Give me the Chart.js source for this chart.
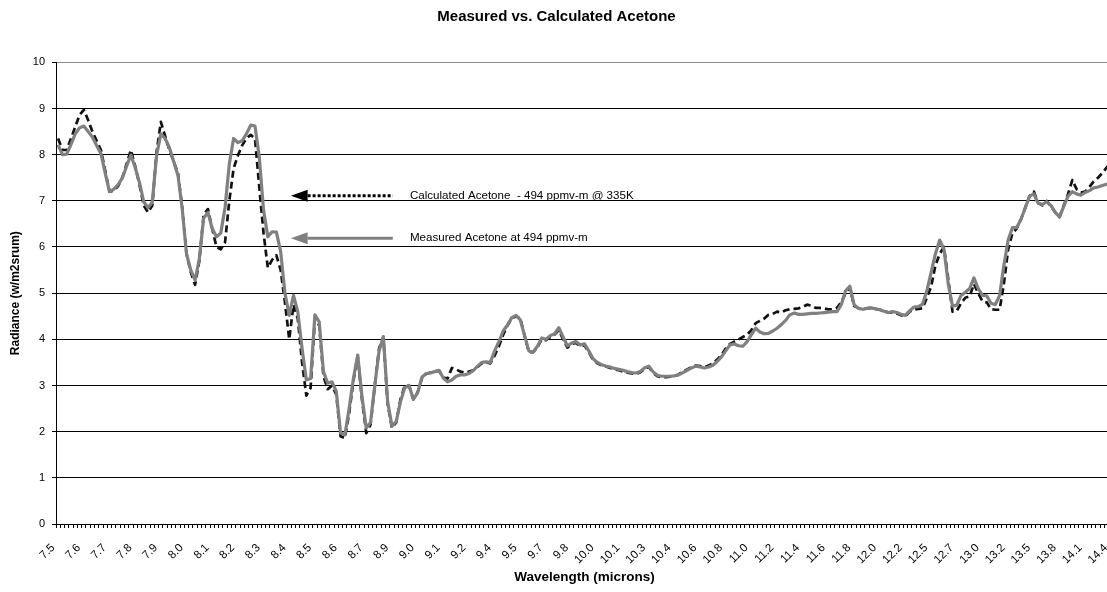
<!DOCTYPE html>
<html>
<head>
<meta charset="utf-8">
<title>Measured vs. Calculated Acetone</title>
<script src="https://cdn.jsdelivr.net/npm/chart.js@4/dist/chart.umd.min.js"></script>
<style>
  html, body { margin: 0; padding: 0; background: #fff; overflow: hidden; }
  #wrap { width: 1116px; height: 592px; }
</style>
</head>
<body>
<div id="wrap"><canvas id="acetoneChart" width="1116" height="592"></canvas></div>
<script>
// wavelength labels, one every 6 spectral points
var tickLabels = ['7.5', '7.6', '7.7', '7.8', '7.9', '8.0', '8.1', '8.2', '8.3', '8.4', '8.5', '8.6', '8.7',
  '8.9', '9.0', '9.1', '9.2', '9.4', '9.5', '9.7', '9.8', '10.0', '10.1', '10.3', '10.4', '10.6', '10.8',
  '11.0', '11.2', '11.4', '11.6', '11.8', '12.0', '12.2', '12.5', '12.7', '13.0', '13.2', '13.5', '13.8',
  '14.1', '14.4'];
var labelEvery = 6;

// measured acetone radiance at 494 ppmv-m
var measured = [
  8.21, 8.0, 8.01, 8.22, 8.45, 8.58, 8.62, 8.5, 8.38, 8.2,
  8.02, 7.6, 7.2, 7.25, 7.35, 7.49, 7.75, 7.99, 7.72, 7.4,
  6.98, 6.85, 6.97, 7.98, 8.45, 8.35, 8.15, 7.85, 7.55, 6.82,
  5.85, 5.5, 5.28, 5.75, 6.62, 6.75, 6.4, 6.22, 6.3, 6.85,
  7.8, 8.35, 8.26, 8.3, 8.45, 8.64, 8.62, 7.95, 6.8, 6.22,
  6.33, 6.32, 5.9, 5.0, 4.52, 4.95, 4.6, 3.8, 3.12, 3.15,
  4.53, 4.38, 3.3, 3.05, 3.08, 2.87, 1.97, 1.93, 2.5, 3.15,
  3.66, 2.76, 2.08, 2.2, 3.0, 3.75, 4.06, 2.65, 2.12, 2.22,
  2.65, 2.95, 3.0, 2.7, 2.84, 3.18, 3.26, 3.27, 3.3, 3.33,
  3.16, 3.08, 3.12, 3.2, 3.23, 3.23, 3.26, 3.32, 3.42, 3.5,
  3.51, 3.5, 3.75, 3.95, 4.18, 4.31, 4.47, 4.52, 4.42, 4.08,
  3.75, 3.72, 3.85, 4.03, 4.0, 4.08, 4.12, 4.25, 4.05, 3.86,
  3.92, 3.95, 3.88, 3.9, 3.75, 3.58, 3.5, 3.45, 3.42, 3.4,
  3.37, 3.35, 3.33, 3.3, 3.28, 3.27, 3.3, 3.38, 3.42, 3.3,
  3.22, 3.2, 3.2, 3.2, 3.21, 3.23, 3.28, 3.33, 3.38, 3.42,
  3.4, 3.38, 3.4, 3.44, 3.52, 3.62, 3.75, 3.88, 3.9, 3.86,
  3.85, 3.95, 4.1, 4.24, 4.16, 4.12, 4.13, 4.18, 4.24, 4.32,
  4.41, 4.53, 4.57, 4.54, 4.54, 4.55, 4.56, 4.56, 4.57, 4.58,
  4.59, 4.6, 4.6, 4.75, 5.05, 5.15, 4.75, 4.67, 4.65, 4.67,
  4.68, 4.66, 4.64, 4.61, 4.58, 4.6, 4.58, 4.54, 4.52, 4.62,
  4.7, 4.71, 4.76, 5.05, 5.45, 5.85, 6.15, 5.95, 5.2, 4.72,
  4.74, 4.95, 5.02, 5.1, 5.33, 5.1, 4.95, 4.94, 4.78, 4.75,
  4.95, 5.6, 6.15, 6.42, 6.42, 6.6, 6.85, 7.1, 7.15, 6.95,
  6.92, 6.98, 6.9, 6.75, 6.65, 6.88, 7.1, 7.2, 7.15, 7.12,
  7.18, 7.22, 7.28, 7.3, 7.33, 7.36, 7.4
];

// calculated acetone, 494 ppmv-m @ 335K
var calculated = [
  8.35, 8.1, 8.1, 8.35, 8.6, 8.86, 8.97, 8.75, 8.5, 8.3,
  8.1, 7.65, 7.2, 7.22, 7.32, 7.5, 7.8, 8.1, 7.75, 7.35,
  6.9, 6.75, 6.9, 8.05, 8.71, 8.4, 8.1, 7.85, 7.6, 6.85,
  5.85, 5.45, 5.18, 5.7, 6.7, 6.82, 6.4, 6.0, 5.95, 6.1,
  7.0, 7.7, 7.98, 8.2, 8.35, 8.43, 8.35, 7.3, 6.3, 5.55,
  5.72, 5.82, 5.5, 4.8, 4.0, 4.75, 4.45, 3.5, 2.78, 2.95,
  4.45, 4.3, 3.2, 2.92, 3.0, 2.8, 1.9, 1.86, 2.4, 3.1,
  3.65, 2.7, 1.97, 2.15, 3.0, 3.8, 4.05, 2.6, 2.08, 2.2,
  2.7, 3.0, 3.0, 2.7, 2.85, 3.15, 3.25, 3.28, 3.3, 3.32,
  3.17, 3.15, 3.38, 3.35, 3.3, 3.28, 3.3, 3.33, 3.4, 3.48,
  3.5, 3.48, 3.65, 3.85, 4.1, 4.3, 4.45, 4.5, 4.45, 4.08,
  3.72, 3.72, 3.83, 4.0, 3.98, 4.05, 4.1, 4.2, 4.0, 3.82,
  3.9, 3.92, 3.85, 3.87, 3.72, 3.56, 3.48, 3.44, 3.41, 3.38,
  3.35, 3.33, 3.3, 3.28, 3.26, 3.25, 3.28, 3.36, 3.4, 3.28,
  3.2, 3.18, 3.18, 3.19, 3.2, 3.24, 3.3, 3.35, 3.4, 3.43,
  3.42, 3.4, 3.43, 3.48, 3.56, 3.66, 3.8, 3.9, 3.95, 4.0,
  4.05, 4.1, 4.2, 4.35, 4.4, 4.45, 4.53, 4.55, 4.6, 4.58,
  4.63, 4.65, 4.66, 4.67, 4.7, 4.75, 4.73, 4.68, 4.68, 4.67,
  4.65, 4.65, 4.68, 4.8, 5.0, 5.12, 4.72, 4.68, 4.65, 4.67,
  4.68, 4.66, 4.64, 4.61, 4.58, 4.58, 4.56, 4.52, 4.5, 4.6,
  4.64, 4.66, 4.67, 4.9, 5.14, 5.6, 5.85, 6.0, 5.3, 4.6,
  4.62, 4.78, 4.9, 4.93, 5.2, 5.0, 4.82, 4.8, 4.65, 4.64,
  4.64, 5.2, 5.95, 6.3, 6.4, 6.6, 6.85, 7.1, 7.2, 6.95,
  6.9, 7.0, 6.88, 6.75, 6.65, 6.9, 7.15, 7.45, 7.25, 7.18,
  7.2, 7.3, 7.42, 7.5, 7.6, 7.72, 7.82
];

// arrow notes: text, radiance level, colour, dash
var noteTexts = ['Calculated Acetone  - 494 ppmv-m @ 335K', 'Measured Acetone at 494 ppmv-m'];
var noteLevels = [7.11, 6.19];
var noteColors = ['#000000', '#808080'];
var noteDashes = [[3, 2], []];
// arrow x extent in category units: tip, head base, tail, text start
var noteTip = 54.4, noteHead = 58.3, noteTail = 78.2, noteText = 82.2;

var categories = measured.map(function (v, i) {
  return i % labelEvery === 0 ? tickLabels[i / labelEvery] : '';
});

Chart.defaults.font.family = '"Liberation Sans", Arial, sans-serif';
Chart.defaults.color = '#000';

var arrowNotes = {
  id: 'arrowNotes',
  afterDatasetsDraw: function (chart) {
    var c = chart.ctx, xs = chart.scales.x, ys = chart.scales.y;
    var tip = xs.getPixelForValue(noteTip);
    var head = xs.getPixelForValue(noteHead);
    var tail = xs.getPixelForValue(noteTail);
    var tx = xs.getPixelForValue(noteText);
    noteTexts.forEach(function (text, k) {
      var y = ys.getPixelForValue(noteLevels[k]);
      c.save();
      c.strokeStyle = noteColors[k];
      c.fillStyle = noteColors[k];
      c.lineWidth = 3;
      c.setLineDash(noteDashes[k]);
      c.beginPath();
      c.moveTo(head, y);
      c.lineTo(tail, y);
      c.stroke();
      c.setLineDash([]);
      c.beginPath();
      c.moveTo(tip, y);
      c.lineTo(head, y - 6);
      c.lineTo(head, y + 6);
      c.closePath();
      c.fill();
      c.fillStyle = '#000';
      c.font = '11.6px "Liberation Sans", Arial, sans-serif';
      c.textBaseline = 'middle';
      c.textAlign = 'left';
      c.fillText(text, tx, y);
      c.restore();
    });
  }
};

var ctx = document.getElementById('acetoneChart').getContext('2d');
var acetoneChart = new Chart(ctx, {
  type: 'line',
  data: {
    labels: categories,
    datasets: [{
      label: 'Measured Acetone at 494 ppmv-m',
      data: measured,
      borderColor: '#808080',
      borderWidth: 3.2,
      order: 1
    }, {
      label: 'Calculated Acetone - 494 ppmv-m @ 335K',
      data: calculated,
      borderColor: '#111111',
      borderWidth: 2.7,
      borderDash: [7, 4],
      order: 2
    }]
  },
  options: {
    responsive: false,
    animation: false,
    layout: { padding: { left: 0, right: 3, top: 0, bottom: 0 } },
    elements: {
      point: { radius: 0 },
      line: { tension: 0, borderJoinStyle: 'round' }
    },
    plugins: {
      legend: { display: false },
      tooltip: { enabled: false },
      title: {
        display: true,
        text: 'Measured vs. Calculated Acetone',
        color: '#000',
        font: { size: 15, weight: 'bold' },
        padding: { top: 8, bottom: 36.3 }
      }
    },
    scales: {
      x: {
        type: 'category',
        offset: true,
        border: { color: '#000', width: 1 },
        grid: {
          offset: true,
          drawOnChartArea: false,
          drawTicks: true,
          tickLength: 4,
          tickColor: '#000'
        },
        ticks: {
          autoSkip: false,
          minRotation: 45,
          maxRotation: 45,
          padding: 13,
          labelOffset: -5,
          color: '#000',
          font: { size: 11.5 }
        },
        title: {
          display: true,
          text: 'Wavelength (microns)',
          color: '#000',
          font: { size: 13.5, weight: 'bold' },
          padding: { top: 0, bottom: 7 }
        },
        afterFit: function (scale) {
          scale.height = 68;
          scale.paddingLeft = 0;
          scale.paddingRight = 0;
        }
      },
      y: {
        min: 0,
        max: 10,
        border: { color: '#000', width: 1 },
        grid: {
          color: function (c) { return c.tick && c.tick.value === 10 ? '#8c8c8c' : '#000'; },
          lineWidth: 1,
          drawTicks: true,
          tickLength: 4,
          tickColor: '#000'
        },
        ticks: {
          stepSize: 1,
          padding: 7,
          color: '#000',
          font: { size: 11 }
        },
        title: {
          display: true,
          text: 'Radiance (w/m2srum)',
          color: '#000',
          font: { size: 12, weight: 'bold' },
          padding: { top: 8, bottom: 0 }
        },
        afterFit: function (scale) {
          scale.width = 56;
          scale.paddingTop = 0;
          scale.paddingBottom = 0;
        }
      }
    }
  },
  plugins: [arrowNotes]
});
</script>
</body>
</html>
